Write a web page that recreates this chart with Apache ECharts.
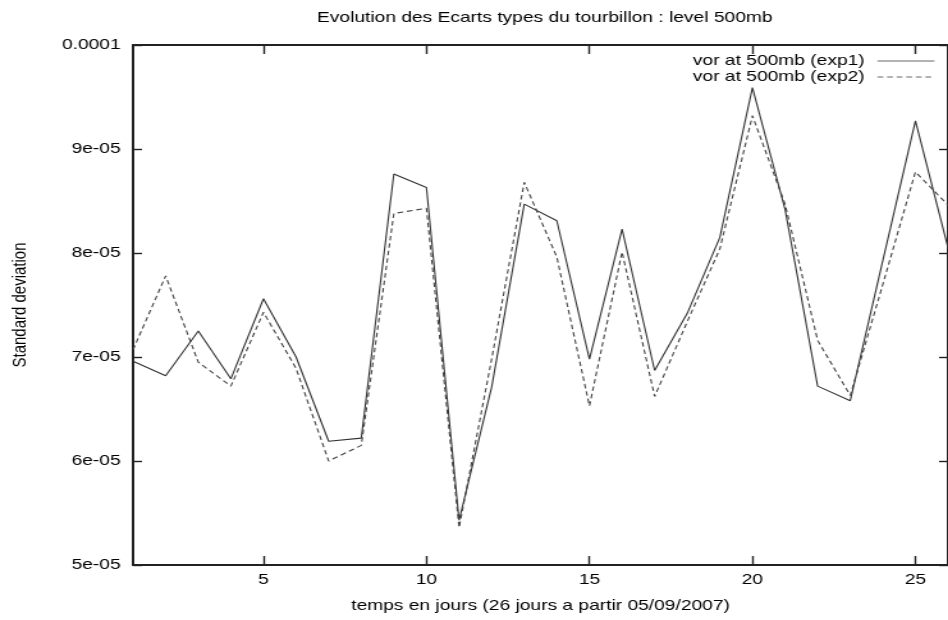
<!DOCTYPE html>
<html>
<head>
<meta charset="utf-8">
<script src="https://cdn.jsdelivr.net/npm/echarts@6/dist/echarts.min.js"></script>
<style>
  html, body { margin: 0; padding: 0; background: #fff; overflow: hidden; }
  /* the plot is drawn narrower, then stretched horizontally to the page width */
  #chart { width: 741px; height: 620px; transform: scaleX(1.2794); transform-origin: 0 0; }
</style>
</head>
<body>
<div id="chart"></div>
<script>
// day index (26 days starting 05/09/2007)
const days = [1, 2, 3, 4, 5, 6, 7, 8, 9, 10, 11, 12, 13, 14, 15, 16, 17, 18, 19, 20, 21, 22, 23, 24, 25, 26];

// standard deviation of 500mb vorticity, experiment 1
const exp1 = [6.96e-5, 6.82e-5, 7.25e-5, 6.79e-5, 7.56e-5, 7.00e-5, 6.19e-5, 6.22e-5, 8.76e-5, 8.63e-5,
              5.43e-5, 6.71e-5, 8.47e-5, 8.31e-5, 6.98e-5, 8.23e-5, 6.87e-5, 7.42e-5, 8.15e-5, 9.59e-5,
              8.42e-5, 6.72e-5, 6.58e-5, 7.93e-5, 9.27e-5, 8.05e-5];

// standard deviation of 500mb vorticity, experiment 2
const exp2 = [7.07e-5, 7.78e-5, 6.95e-5, 6.72e-5, 7.43e-5, 6.89e-5, 6.00e-5, 6.15e-5, 8.38e-5, 8.43e-5,
              5.36e-5, 6.98e-5, 8.68e-5, 7.96e-5, 6.53e-5, 8.01e-5, 6.62e-5, 7.34e-5, 8.04e-5, 9.32e-5,
              8.47e-5, 7.16e-5, 6.63e-5, 7.70e-5, 8.78e-5, 8.46e-5];

const seriesNames = ['vor at 500mb (exp1)', 'vor at 500mb (exp2)'];

const xTickValues = [5, 10, 15, 20, 25];
const yTickValues = [5e-5, 6e-5, 7e-5, 8e-5, 9e-5, 1e-4];
const yTickLabels = ['5e-05', '6e-05', '7e-05', '8e-05', '9e-05', '0.0001'];

const FONT = 'Liberation Sans';
const INK = '#000';
const BORDER = { show: true, onZero: false, lineStyle: { color: '#222', width: 2 } };
const TICK = { show: true, inside: true, length: 7, lineStyle: { color: '#222', width: 1.4 } };
const TICK_V = { show: true, inside: true, length: 9, lineStyle: { color: '#222', width: 1.4 } };

function yLabel(v) {
  for (let i = 0; i < yTickValues.length; i++) {
    if (Math.abs(v - yTickValues[i]) < 1e-10) return yTickLabels[i];
  }
  return '';
}

const chart = echarts.init(document.getElementById('chart'), null, { renderer: 'canvas' });

chart.setOption({
  animation: false,
  backgroundColor: '#fff',
  title: {
    text: 'Evolution des Ecarts types du tourbillon : level 500mb',
    left: 425.8,
    top: 10,
    padding: 0,
    textAlign: 'center',
    textStyle: { fontFamily: FONT, fontSize: 15, fontWeight: 'normal', color: INK }
  },
  legend: {
    orient: 'vertical',
    right: 10.2,
    top: 53.5,
    align: 'right',
    itemWidth: 44.5,
    itemHeight: 14,
    itemGap: 1,
    padding: 0,
    selectedMode: false,
    // line samples only, no marker on them
    itemStyle: { color: 'transparent', borderColor: 'transparent', borderWidth: 0, opacity: 0 },
    lineStyle: { width: 0.9, color: '#555' },
    textStyle: { fontFamily: FONT, fontSize: 15, color: INK, padding: [0, 5, 0, 0] },
    data: seriesNames
  },
  grid: { left: 103.5, right: -6.2, top: 45, bottom: 55, containLabel: false },
  xAxis: [
    {
      type: 'value', position: 'bottom', min: 1, max: 26,
      axisLine: BORDER,
      axisTick: Object.assign({ customValues: xTickValues }, TICK_V),
      axisLabel: { customValues: xTickValues, margin: 7.5, fontFamily: FONT, fontSize: 15, color: INK },
      splitLine: { show: false },
      name: 'temps en jours (26 jours a partir 05/09/2007)',
      nameLocation: 'middle',
      nameGap: 33.5,
      nameTextStyle: { fontFamily: FONT, fontSize: 15, color: INK }
    },
    {
      type: 'value', position: 'top', min: 1, max: 26,
      axisLine: BORDER,
      axisTick: Object.assign({ customValues: xTickValues }, TICK_V),
      axisLabel: { show: false },
      splitLine: { show: false }
    }
  ],
  yAxis: [
    {
      type: 'value', position: 'left', min: 5e-5, max: 1e-4, interval: 1e-5,
      axisLine: BORDER,
      axisTick: TICK,
      axisLabel: { margin: 9.7, formatter: yLabel, fontFamily: FONT, fontSize: 15, color: INK },
      splitLine: { show: false },
      name: 'Standard deviation',
      nameLocation: 'middle',
      nameRotate: 90,
      nameGap: 81,
      nameTextStyle: { fontFamily: FONT, fontSize: 15, color: INK }
    },
    {
      type: 'value', position: 'right', min: 5e-5, max: 1e-4, interval: 1e-5,
      axisLine: BORDER,
      axisTick: TICK,
      axisLabel: { show: false },
      splitLine: { show: false }
    }
  ],
  series: [
    {
      name: seriesNames[0],
      type: 'line',
      symbol: 'none',
      data: days.map((d, i) => [d, exp1[i]]),
      lineStyle: { color: '#333', width: 1.1, type: 'solid' },
      itemStyle: { color: '#333' }
    },
    {
      name: seriesNames[1],
      type: 'line',
      symbol: 'none',
      data: days.map((d, i) => [d, exp2[i]]),
      lineStyle: { color: '#444', width: 1.1, type: [4.5, 3] },
      itemStyle: { color: '#444' }
    }
  ]
});
</script>
</body>
</html>
